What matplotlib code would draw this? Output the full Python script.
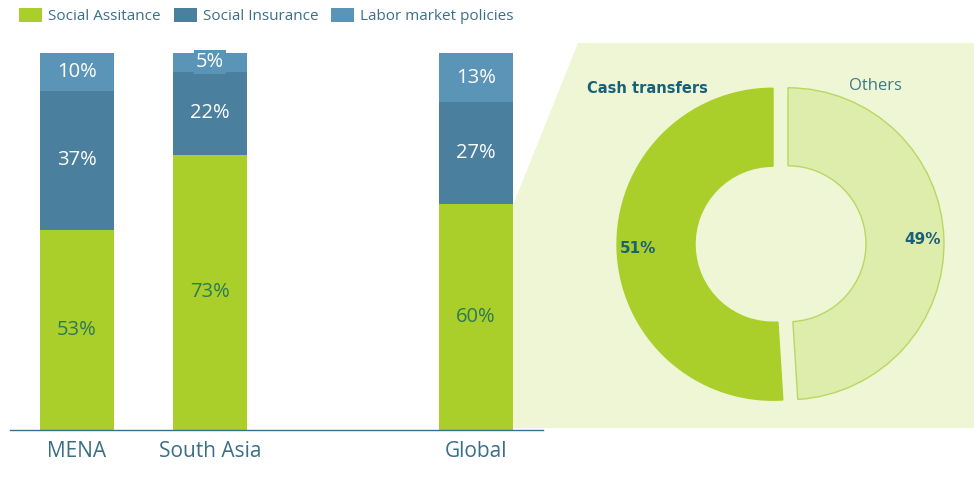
import matplotlib.pyplot as plt
from matplotlib.patches import Patch, Polygon
import numpy as np

plt.rcParams['font.family'] = ['Open Sans', 'DejaVu Sans']

# stacked bars: share of spending by program type
regions = ['MENA', 'South Asia', 'Global']
positions = [0, 1, 3]
social_assistance = [53, 73, 60]
social_insurance = [37, 22, 27]
labor_market = [10, 5, 13]

# donut: composition of social assistance (global)
donut_labels = ['Cash transfers', 'Others']
donut_values = [51, 49]

green = '#AACF2A'
insur = '#4A7F9E'
labor = '#5A95B8'
teal = '#1A6079'
axis_teal = '#3A6F88'
bg_green = '#EEF6D6'
light_green = '#DEEDAB'
bold_font = ['DejaVu Sans']

W, H = 974, 478
fig = plt.figure(figsize=(W / 100, H / 100), dpi=100)

# light green wedge zooming from the global bar into the donut
fig.patches.append(Polygon([(513 / W, 1 - 205 / H), (578 / W, 1 - 43 / H), (1, 1 - 43 / H),
                            (1, 1 - 428 / H), (513 / W, 1 - 428 / H)],
                           closed=True, transform=fig.transFigure, facecolor=bg_green,
                           edgecolor='none', zorder=-1))

# ---- bars ----
ax = fig.add_axes([10 / W, 48 / H, 533 / W, 377 / H])
ax.patch.set_alpha(0)
bw = 0.556
b1 = ax.bar(positions, social_assistance, bw, color=green, label='Social Assitance')
b2 = ax.bar(positions, social_insurance, bw, bottom=social_assistance, color=insur,
            label='Social Insurance')
bot = np.array(social_assistance) + np.array(social_insurance)
b3 = ax.bar(positions, labor_market, bw, bottom=bot, color=labor, label='Labor market policies')

ax.bar_label(b1, labels=[f'{v}%' for v in social_assistance], label_type='center',
             color='#2C7A55', fontsize=14.5)
ax.bar_label(b2, labels=[f'{v}%' for v in social_insurance], label_type='center',
             color='white', fontsize=14.5)
txts = ax.bar_label(b3, labels=[f'{v}%' for v in labor_market], label_type='center',
                    color='white', fontsize=14.5)
for t, v in zip(txts, labor_market):
    if v < 8:
        t.set_bbox(dict(facecolor=labor, edgecolor='none', pad=1.5))

ax.set_xlim(-0.504, 3.504)
ax.set_ylim(0, 100)
ax.set_xticks(positions)
ax.set_xticklabels(regions, fontsize=15, color=axis_teal)
ax.tick_params(axis='x', length=0, pad=8)
ax.set_yticks([])
for s in ['top', 'right', 'left']:
    ax.spines[s].set_visible(False)
ax.spines['bottom'].set_color(axis_teal)
ax.spines['bottom'].set_linewidth(1)

fig.legend(handles=[b1, b2, b3], loc='upper left', bbox_to_anchor=(19 / W, 1 - 8 / H),
           ncol=3, frameon=False, fontsize=11, labelcolor=axis_teal,
           handlelength=1.5, handleheight=1.0, handletextpad=0.4, columnspacing=0.85,
           borderaxespad=0, borderpad=0)

# ---- donut ----
pax = fig.add_axes([600.5 / W, (H - 424) / H, 360 / W, 360 / H])
pax.patch.set_alpha(0)
wedges, _, autotexts = pax.pie(donut_values, startangle=90, counterclock=True,
                               colors=[green, light_green], explode=[0.048, 0.048],
                               autopct=lambda p: f'{p:.0f}%', pctdistance=0.865,
                               wedgeprops=dict(width=0.5, linewidth=1))
wedges[0].set_edgecolor(green)
wedges[1].set_edgecolor('#B9D763')
for t in autotexts:
    t.set_color(teal)
    t.set_fontsize(11)
    t.set_fontweight('bold')
    t.set_family(bold_font)
pax.set_xlim(-1.154, 1.154)
pax.set_ylim(-1.154, 1.154)
pax.set_aspect('equal')
pax.axis('off')
pax.text(-0.85, 1.0, donut_labels[0], ha='center', va='center', fontsize=10.5,
         fontweight='bold', color=teal, family=bold_font)
pax.text(0.61, 1.01, donut_labels[1], ha='center', va='center', fontsize=12,
         color='#3D7A86')

fig.savefig('out.png', dpi=100)
